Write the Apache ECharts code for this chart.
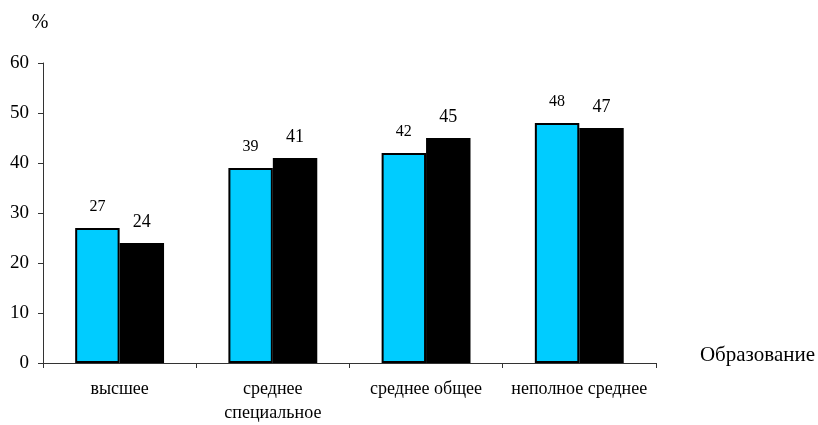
<!DOCTYPE html>
<html>
<head>
<meta charset="utf-8">
<script src="https://cdn.jsdelivr.net/npm/echarts@6/dist/echarts.min.js"></script>
<style>
  html, body { margin: 0; padding: 0; background: #fff; }
  #chart { width: 818px; height: 425px; }
</style>
</head>
<body>
<div id="chart"></div>
<script>
// Education levels and the two compared shares (%)
const categories = ['высшее', 'среднее\nспециальное', 'среднее общее', 'неполное среднее'];
const seriesA = [27, 39, 42, 48];
const seriesB = [24, 41, 45, 47];
const yTicks = { min: 0, max: 60, interval: 10 };

const FONT = '"Liberation Serif", "Times New Roman", serif';

const chart = echarts.init(document.getElementById('chart'));
chart.setOption({
  animation: false,
  textStyle: { fontFamily: FONT },
  grid: { left: 43, right: 162, top: 63, bottom: 61 },
  xAxis: {
    type: 'category',
    data: categories,
    name: 'Образование',
    nameLocation: 'end',
    nameGap: 44,
    nameTextStyle: { fontFamily: FONT, fontSize: 21, lineHeight: 16, color: '#000', align: 'left', verticalAlign: 'bottom' },
    axisLine: { lineStyle: { color: '#333', width: 1 } },
    axisTick: { show: true, interval: 0, length: 5, lineStyle: { color: '#333' } },
    axisLabel: { interval: 0, fontFamily: FONT, fontSize: 18, color: '#000', margin: 14, lineHeight: 24 }
  },
  yAxis: {
    type: 'value',
    min: yTicks.min,
    max: yTicks.max,
    interval: yTicks.interval,
    name: '%',
    nameLocation: 'end',
    nameGap: 30,
    nameTextStyle: { fontFamily: FONT, fontSize: 20, color: '#000', padding: [0, 6, 0, 0] },
    axisLine: { show: true, lineStyle: { color: '#333', width: 1 } },
    axisTick: { show: true, length: 5, lineStyle: { color: '#333' } },
    axisLabel: { fontFamily: FONT, fontSize: 19, color: '#000', margin: 14 },
    splitLine: { show: false }
  },
  series: [
    {
      type: 'bar',
      data: seriesA,
      barGap: '0%',
      barCategoryGap: '42%',
      itemStyle: { color: '#00CCFF', borderColor: '#000', borderWidth: 2 },
      label: { show: true, position: 'top', distance: 13, fontFamily: FONT, fontSize: 16, color: '#000' }
    },
    {
      type: 'bar',
      data: seriesB,
      barGap: '0%',
      barCategoryGap: '42%',
      itemStyle: { color: '#000', borderColor: '#000', borderWidth: 2 },
      label: { show: true, position: 'top', distance: 12, fontFamily: FONT, fontSize: 18, color: '#000' }
    }
  ]
});
</script>
</body>
</html>
